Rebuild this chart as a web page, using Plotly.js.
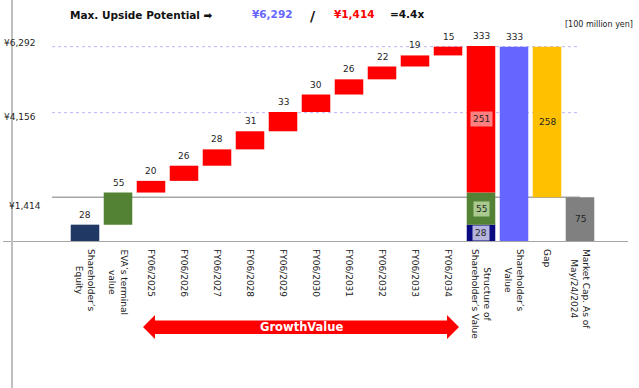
<!DOCTYPE html>
<html>
<head>
<meta charset="utf-8">
<script src="https://cdn.plot.ly/plotly-3.0.1.min.js"></script>
<style>html,body{margin:0;padding:0;background:#fff;overflow:hidden;}#chart{width:639px;height:388px;}</style>
</head>
<body>
<div id="chart"></div>
<script>
// ---------- data ----------
const categories = [
  "Shareholder’s<br>Equity", "EVA’s terminal<br>value",
  "FY06/2025", "FY06/2026", "FY06/2027", "FY06/2028", "FY06/2029",
  "FY06/2030", "FY06/2031", "FY06/2032", "FY06/2033", "FY06/2034",
  "Structure of<br>Shareholder’s Value", "Shareholder’s<br>Value", "Gap",
  "Market Cap. As of<br>May/24/2024"
];
const stepValues = [28, 55, 20, 26, 28, 31, 33, 30, 26, 22, 19, 15];
const structureValues = [28, 55, 251];
const shareholderValue = 333;
const gapValue = 258;
const marketCap = 75;
const yenTickValues = [1414, 4156, 6292];
const yenTickText = ["¥1,414", "¥4,156", "¥6,292"];
const headline = {label: "Max. Upside Potential ➡", upper: "¥6,292", lower: "¥1,414", ratio: "=4.4x"};
const unitText = "[100 million yen]";
const arrowText = "GrowthValue";

// ---------- styles ----------
const C = {navy: "#1F3864", green: "#548235", red: "#FF0000", deepNavy: "#0A0A80",
  blue: "#6666FF", orange: "#FFC000", gray: "#808080"};
const stepColors = stepValues.map((v, i) => i === 0 ? C.navy : (i === 1 ? C.green : C.red));
const structColors = [C.deepNavy, C.green, C.red];
const structBoxes = ["#B4B4DC", "#A9C98F", "#FF8080"];
const FONT = "DejaVu Sans, Verdana, sans-serif";
const txt = "#1f1f1f";

// pixel helpers (plot area: x 3..628, y 20..241)
const ML = 3, MR = 11, MT = 20, MB = 147, W = 639 - ML - MR, H = 388 - MT - MB;
const px = x => (x - ML) / W;
const py = y => (388 - MB - y) / H;

// ---------- derived ----------
let bases = [], acc = 0;
stepValues.forEach(v => { bases.push(acc); acc += v; });
const stepX = stepValues.map((v, i) => i);
const structIdx = stepValues.length;
let sBases = [], sacc = 0;
structureValues.forEach(v => { sBases.push(sacc); sacc += v; });
const yenPerUnit = yenTickValues[2] / shareholderValue;
const tickUnits = yenTickValues.map(v => v / yenPerUnit);

const bw = 0.865;
const traces = [
  {type: "bar", x: stepX, y: stepValues, base: bases, width: bw,
   marker: {color: stepColors, line: {width: 0}}, hoverinfo: "skip"},
  {type: "bar", x: structureValues.map(() => structIdx), y: structureValues, base: sBases, width: bw,
   marker: {color: structColors, line: {width: 0}}, hoverinfo: "skip"},
  {type: "bar", x: [structIdx + 1], y: [shareholderValue], base: [0], width: bw,
   marker: {color: C.blue}, hoverinfo: "skip"},
  {type: "bar", x: [structIdx + 2], y: [gapValue], base: [marketCap], width: bw,
   marker: {color: C.orange}, hoverinfo: "skip"},
  {type: "bar", x: [structIdx + 3], y: [marketCap], base: [0], width: bw,
   marker: {color: C.gray}, hoverinfo: "skip"}
];

const ann = [];
const lab = (x, y, text, extra) => Object.assign({x: x, y: y, xref: "x", yref: "y", text: text, showarrow: false,
  font: {family: FONT, size: 9, color: txt}}, extra || {});
// labels above waterfall bars
stepValues.forEach((v, i) => ann.push(lab(i, bases[i] + v, String(v), {yanchor: "bottom", yshift: 3})));
ann.push(lab(structIdx, sacc, String(shareholderValue), {yanchor: "bottom", yshift: 3}));
ann.push(lab(structIdx + 1, shareholderValue, String(shareholderValue), {yanchor: "bottom", yshift: 3}));
// structure inner boxes
structureValues.forEach((v, i) => ann.push(lab(structIdx, sBases[i] + v / 2, String(v),
  {bgcolor: structBoxes[i], borderpad: 2})));
ann.push(lab(structIdx + 2, marketCap + gapValue / 2, String(gapValue)));
ann.push(lab(structIdx + 3, marketCap / 2, String(marketCap)));
// category labels (rotated, centred lines)
categories.forEach((c, i) => ann.push({x: i, y: py(247), xref: "x", yref: "paper", text: c, showarrow: false,
  textangle: 90, align: "center", xanchor: "center", yanchor: "top",
  font: {family: FONT, size: 9, color: "#222"}}));
// yen axis labels
const yenShift = [-9, -4, 4];
const yenRight = [43, 38, 38];
tickUnits.forEach((u, i) => ann.push({x: px(yenRight[i]), y: u, xref: "paper", yref: "y", xanchor: "right",
  yanchor: "middle", text: yenTickText[i], showarrow: false, yshift: yenShift[i],
  font: {family: FONT, size: 9, color: txt}}));
// headline
const headLab = (x, y, text, size, color, xa) => ({x: px(x), y: py(y), xref: "paper", yref: "paper",
  xanchor: xa || "left", yanchor: "middle", text: text, showarrow: false,
  font: {family: FONT, size: size, color: color}});
ann.push(headLab(68, 15, "<b>" + headline.label + "</b>", 10.5, "#111"));
ann.push(headLab(250, 14, "<b>" + headline.upper + "</b>", 10.5, C.blue));
ann.push(headLab(313, 16, "<b>/</b>", 14, "#111", "center"));
ann.push(headLab(332, 14, "<b>" + headline.lower + "</b>", 10.5, C.red));
ann.push(headLab(388, 14, "<b>" + headline.ratio + "</b>", 10.5, "#111"));
ann.push(headLab(563, 24, unitText, 8, "#222", "left"));
ann.push(headLab(301, 327, "<b>" + arrowText + "</b>", 11.5, "#fff", "center"));

// shapes
const shapes = [];
const gx0 = -1, gx1 = categories.length - 1;
shapes.push({type: "line", xref: "x", yref: "y", x0: gx0, x1: gx1, y0: tickUnits[2], y1: tickUnits[2],
  line: {color: "#B8B8F4", width: 1, dash: "dot"}, layer: "below"});
shapes.push({type: "line", xref: "x", yref: "y", x0: gx0, x1: gx1, y0: tickUnits[1], y1: tickUnits[1],
  line: {color: "#B8B8F4", width: 1, dash: "dot"}, layer: "below"});
shapes.push({type: "line", xref: "x", yref: "y", x0: gx0, x1: gx1, y0: marketCap, y1: marketCap,
  line: {color: "#A6A6A6", width: 1.5}, layer: "below"});
shapes.push({type: "line", xref: "paper", yref: "paper", x0: px(12), x1: px(12), y0: py(390), y1: py(-2),
  line: {color: "#BFBFBF", width: 2}});
// double arrow
const pts = [[143,327],[155,315],[155,320.5],[447,320.5],[447,315],[459,327],[447,339],[447,334],[155,334],[155,339]];
const path = pts.map((p, i) => (i ? "L" : "M") + px(p[0]).toFixed(5) + "," + py(p[1]).toFixed(5)).join(" ") + " Z";
shapes.push({type: "path", xref: "paper", yref: "paper", path: path, fillcolor: C.red, line: {width: 0}, layer: "below"});

const layout = {
  width: 639, height: 388,
  margin: {l: ML, r: MR, t: MT, b: MB, pad: 0},
  paper_bgcolor: "#fff", plot_bgcolor: "rgba(0,0,0,0)",
  showlegend: false, barmode: "overlay",
  xaxis: {range: [-82 / 33, -82 / 33 + W / 33], showticklabels: false, showgrid: false, zeroline: false,
    showline: true, linecolor: "#A6A6A6", linewidth: 1, ticks: "", fixedrange: true},
  yaxis: {range: [0, H / 0.5836], showgrid: false, zeroline: false, showticklabels: false, fixedrange: true},
  annotations: ann, shapes: shapes
};
Plotly.newPlot("chart", traces, layout, {displayModeBar: false, staticPlot: true});
</script>
</body>
</html>
